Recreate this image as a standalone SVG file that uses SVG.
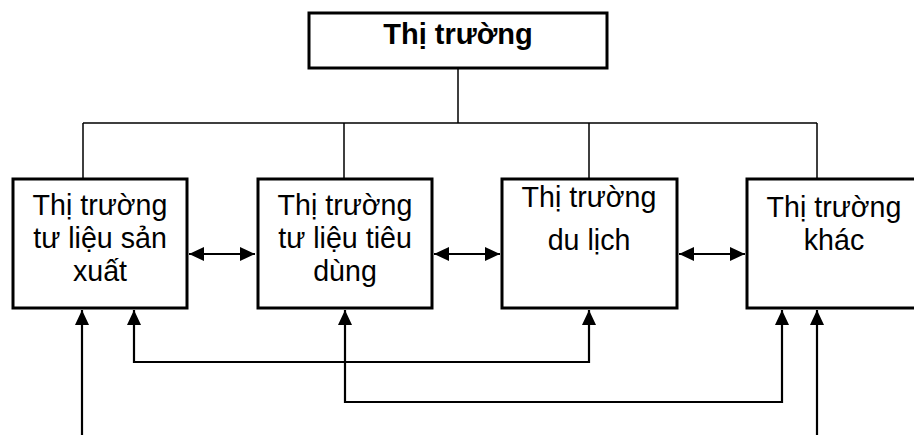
<svg xmlns="http://www.w3.org/2000/svg" width="914" height="435" viewBox="0 0 914 435">
<style>
.box{fill:#fff;stroke:#000;stroke-width:3}
.t{font-family:"Liberation Sans",Arial,sans-serif;font-size:28.6px;fill:#000;text-anchor:middle}
.b{font-weight:bold;font-size:29px}
.ln{fill:none;stroke:#000;stroke-width:1.5}
.ar{fill:none;stroke:#000;stroke-width:2.2}
</style>
<defs>
<marker id="ah" markerUnits="userSpaceOnUse" markerWidth="15" markerHeight="14" refX="15" refY="7" orient="auto-start-reverse" viewBox="0 0 15 14">
<path d="M0,0 L15,7 L0,14 z" fill="#000"/>
</marker>
</defs>
<g id="connectors">
<path class="ln" d="M458,68 V123 M83,123 H817 M83,123 V178 M344,123 V178 M589,123 V178 M817,123 V178"/>
<path class="ar" d="M189,254 H255" marker-start="url(#ah)" marker-end="url(#ah)"/>
<path class="ar" d="M434,254 H500" marker-start="url(#ah)" marker-end="url(#ah)"/>
<path class="ar" d="M679,254 H745" marker-start="url(#ah)" marker-end="url(#ah)"/>
<path class="ar" d="M82,435 V310" marker-end="url(#ah)"/>
<path class="ar" d="M134,310 V362 H589 V310" marker-start="url(#ah)" marker-end="url(#ah)"/>
<path class="ar" d="M345,310 V402 H782 V310" marker-start="url(#ah)" marker-end="url(#ah)"/>
<path class="ar" d="M817,435 V310" marker-end="url(#ah)"/>
</g>
<g id="thi-truong">
<rect class="box" x="309" y="13" width="298" height="55"/>
<text class="t b" x="458" y="44">Thị trường</text>
</g>
<g id="tu-lieu-san-xuat">
<rect class="box" x="13" y="179" width="174" height="129"/>
<text class="t" x="100" y="215">Thị trường</text>
<text class="t" x="100" y="248">tư liệu sản</text>
<text class="t" x="100" y="281">xuất</text>
</g>
<g id="tu-lieu-tieu-dung">
<rect class="box" x="258" y="179" width="174" height="129"/>
<text class="t" x="345" y="215">Thị trường</text>
<text class="t" x="345" y="248">tư liệu tiêu</text>
<text class="t" x="345" y="281">dùng</text>
</g>
<g id="du-lich">
<rect class="box" x="502" y="179" width="175" height="129"/>
<text class="t" x="589" y="207">Thị trường</text>
<text class="t" x="589" y="250">du lịch</text>
</g>
<g id="khac">
<rect class="box" x="747" y="179" width="175" height="129"/>
<text class="t" x="834" y="217">Thị trường</text>
<text class="t" x="834" y="250">khác</text>
</g>
</svg>
